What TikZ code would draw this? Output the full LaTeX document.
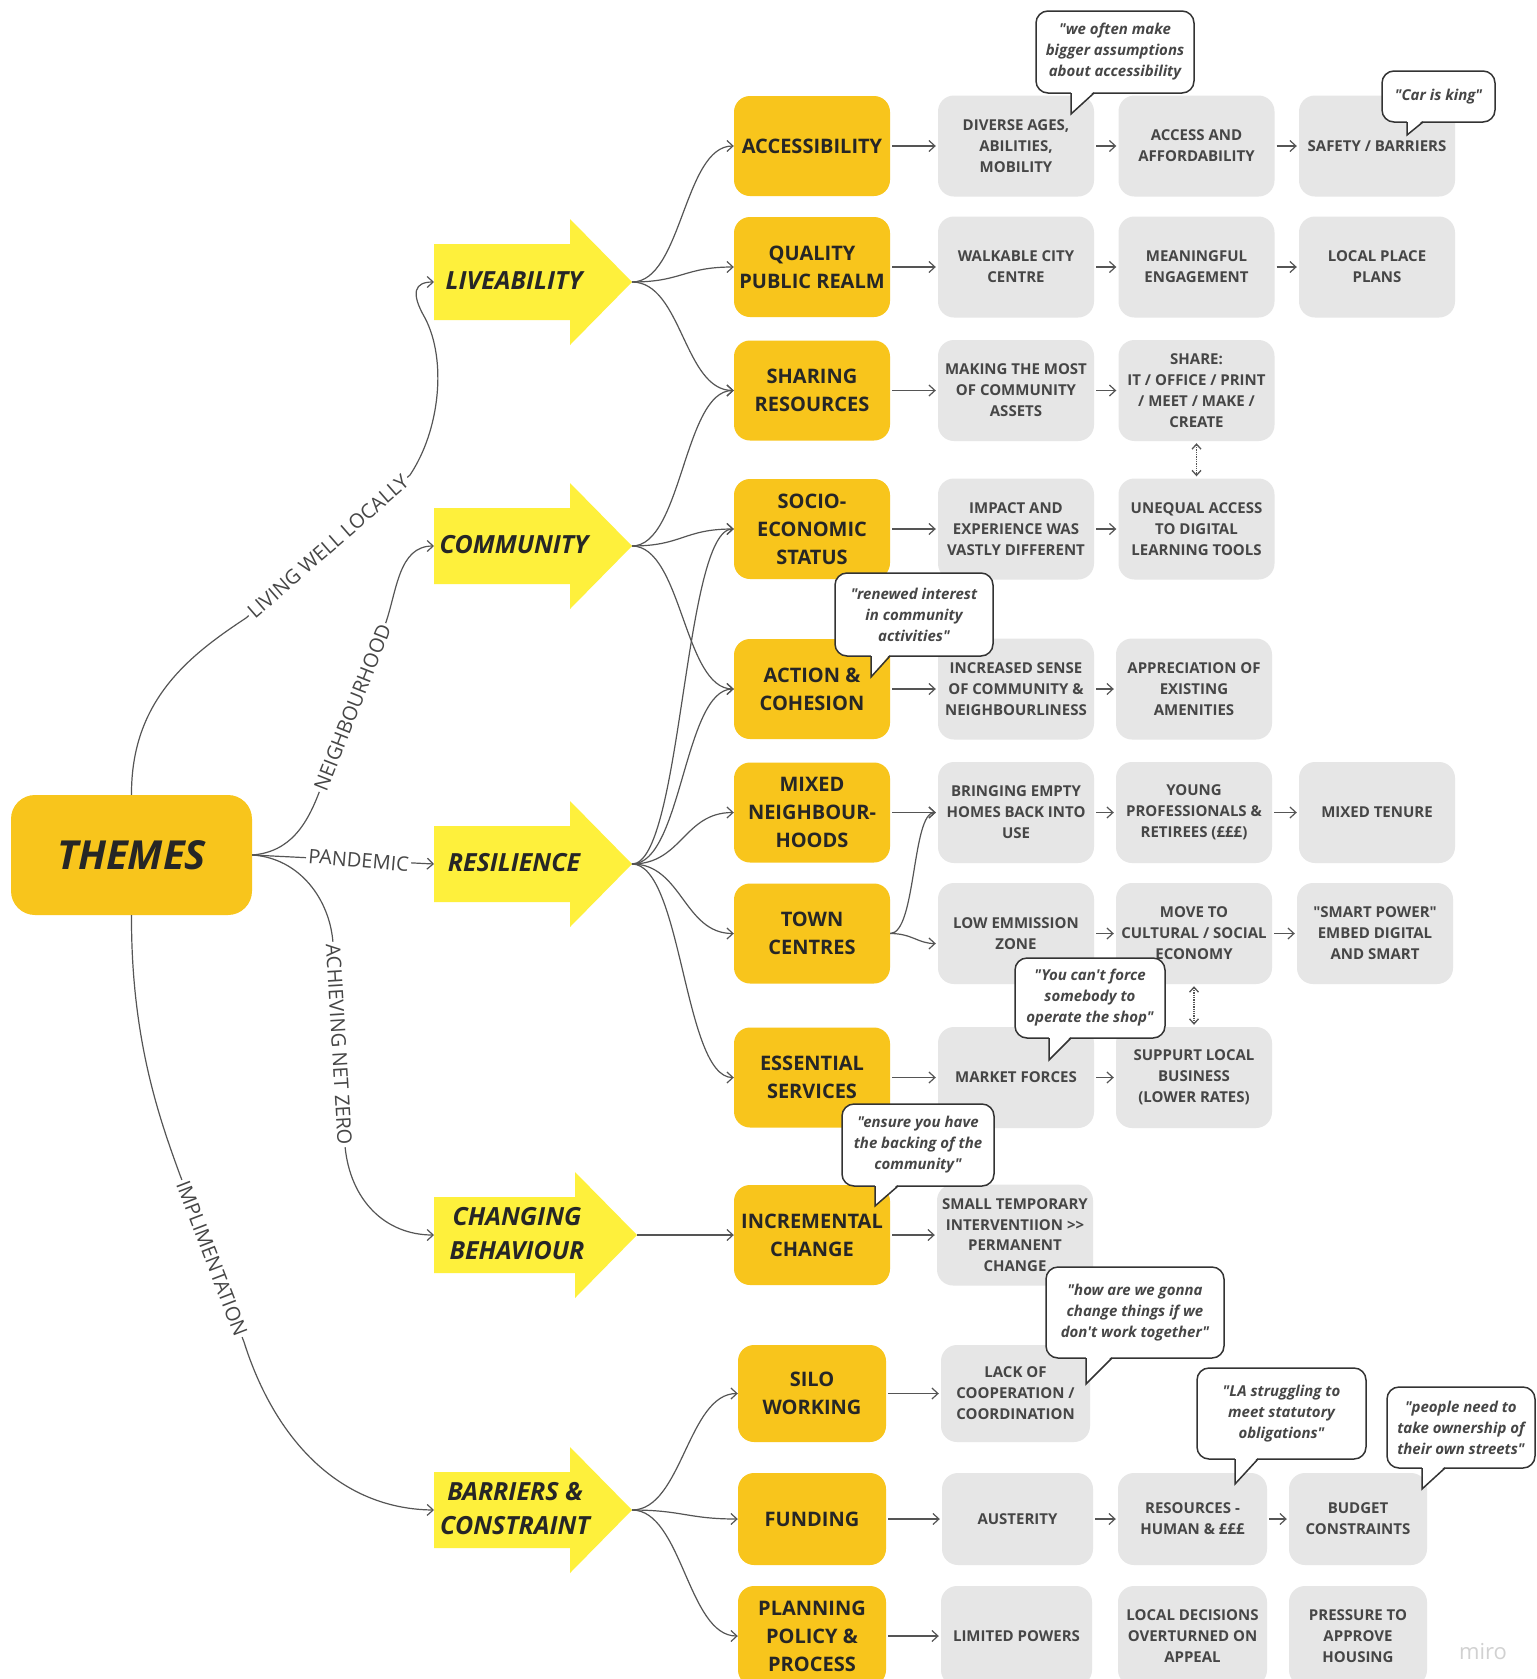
\documentclass[tikz,border=0pt]{standalone}
\usepackage{fontspec}
\setmainfont{Open Sans}[Ligatures=TeXOff]
\usetikzlibrary{arrows.meta,calc}
\definecolor{ybox}{HTML}{F8C51C}
\definecolor{yarrow}{HTML}{FEF03C}
\definecolor{gbox}{HTML}{E6E6E6}
\definecolor{gtext}{HTML}{464646}
\definecolor{ytext}{HTML}{262626}
\definecolor{conn}{HTML}{555555}
\definecolor{bubline}{HTML}{333333}
\newcommand\bigarr[5]{% name, center y, tip x, text x, text
  \fill[yarrow] (434,#2-38) -- (#3-62,#2-38) -- (#3-62,#2-63) -- (#3,#2) -- (#3-62,#2+63) -- (#3-62,#2+38) -- (434,#2+38) -- cycle;
  \coordinate (#1-in) at (434,#2);
  \coordinate (#1-tip) at (#3,#2);
  \node[arrtext] (#1) at (#4,#2-1) {#5};
}
\newcommand\qbub[9]{% name, x1,y1,x2,y2, tailL, tailR, tipY, text
  \draw[bub] (#2,#3) rectangle (#4,#5);
  \fill[white] (#6,#5-2) -- (#7,#5-2) -- (#6,#8) -- cycle;
  \draw[bubline, line width=1.5pt, line join=miter] (#6,#5) -- (#6,#8) -- (#7,#5);
  \node[qtext] (#1) at ({(#2+#4)/2},{(#3+#5)/2}) {#9};
}
\begin{document}
\begin{tikzpicture}[x=1pt,y=-1pt,
  cat/.style={fill=ybox, rounded corners=16pt, minimum width=156pt, minimum height=100pt, text=ytext, font=\bfseries\fontsize{20}{28}\selectfont, align=center, inner sep=0pt},
  gb/.style={fill=gbox, rounded corners=16pt, minimum width=156pt, minimum height=101pt, text=gtext, font=\bfseries\fontsize{15}{21}\selectfont, align=center, inner sep=0pt},
  arrtext/.style={text=ytext, font=\bfseries\itshape\fontsize{25}{34}\selectfont, align=center, inner sep=0pt},
  qtext/.style={text=gtext, font=\bfseries\itshape\fontsize{15}{21}\selectfont, align=center, inner sep=0pt},
  bub/.style={draw=bubline, line width=1.5pt, fill=white, rounded corners=12pt},
  cn/.style={draw=conn, line width=1.2pt, -{Straight Barb[length=6pt,width=11pt]}},
  rc/.style={cn, shorten <=2pt, shorten >=2pt},
  ln/.style={draw=conn, line width=1.2pt},
  elabel/.style={text=gtext, font=\fontsize{20}{20}\selectfont, fill=white, inner sep=2pt},
  dotarr/.style={draw=conn, line width=1.3pt, densely dotted, {Straight Barb[length=5pt,width=9pt]}-{Straight Barb[length=5pt,width=9pt]}, shorten <=2pt, shorten >=2pt}
]
\fill[white] (0,0) rectangle (1537,1679);
\useasboundingbox (0,0) rectangle (1537,1679);

% ---- main theme box
\node[fill=ybox, rounded corners=24pt, minimum width=241pt, minimum height=120pt, inner sep=0pt,
      font=\bfseries\itshape\fontsize{40}{40}\selectfont, text=ytext] (themes) at (131.5,855) {THEMES};

% ---- big arrows
\bigarr{liv}{282}{632}{514}{LIVEABILITY}
\bigarr{com}{546}{632}{514}{COMMUNITY}
\bigarr{res}{864}{632}{514}{RESILIENCE}
\bigarr{cb}{1235}{637}{517}{CHANGING\\BEHAVIOUR}
\bigarr{bar}{1510}{632}{515}{BARRIERS \&\\CONSTRAINT}

% ---- category boxes
\node[cat] (acc) at (812,146) {ACCESSIBILITY};
\node[cat] (qual) at (812,267) {QUALITY\\PUBLIC REALM};
\node[cat] (shr) at (812,390.5) {SHARING\\RESOURCES};
\node[cat] (soc) at (812,529) {SOCIO-\\ECONOMIC\\STATUS};
\node[cat] (act) at (812,689) {ACTION \&\\COHESION};
\node[cat] (mix) at (812,812.5) {MIXED\\NEIGHBOUR-\\HOODS};
\node[cat] (town) at (812,933.5) {TOWN\\CENTRES};
\node[cat] (ess) at (812,1077.5) {ESSENTIAL\\SERVICES};
\node[cat] (inc) at (812,1235) {INCREMENTAL\\CHANGE};
\node[cat, minimum width=148pt, minimum height=97pt] (silo) at (812,1393.5) {SILO\\WORKING};
\node[cat, minimum width=148pt, minimum height=92pt] (fund) at (812,1519) {FUNDING};
\node[cat, minimum width=148pt] (plan) at (812,1636) {PLANNING\\POLICY \&\\PROCESS};

% ---- grey boxes
\node[gb] (a1) at (1016,146) {DIVERSE AGES,\\ABILITIES,\\MOBILITY};
\node[gb] (a2) at (1196.5,146) {ACCESS AND\\AFFORDABILITY};
\node[gb] (a3) at (1377,146) {SAFETY / BARRIERS};
\node[gb] (p1) at (1016,267) {WALKABLE CITY\\CENTRE};
\node[gb] (p2) at (1196.5,267) {MEANINGFUL\\ENGAGEMENT};
\node[gb] (p3) at (1377,267) {LOCAL PLACE\\PLANS};
\node[gb] (s1) at (1016,390.5) {MAKING THE MOST\\OF COMMUNITY\\ASSETS};
\node[gb] (s2) at (1196.5,390.5) {SHARE:\\IT / OFFICE / PRINT\\/ MEET / MAKE /\\CREATE};
\node[gb] (e1) at (1016,529) {IMPACT AND\\EXPERIENCE WAS\\VASTLY DIFFERENT};
\node[gb] (e2) at (1196.5,529) {UNEQUAL ACCESS\\TO DIGITAL\\LEARNING TOOLS};
\node[gb] (c1) at (1016,689) {INCREASED SENSE\\OF COMMUNITY \&\\NEIGHBOURLINESS};
\node[gb] (c2) at (1194,689) {APPRECIATION OF\\EXISTING\\AMENITIES};
\node[gb] (m1) at (1016,812.5) {BRINGING EMPTY\\HOMES BACK INTO\\USE};
\node[gb] (m2) at (1194,812.5) {YOUNG\\PROFESSIONALS \&\\RETIREES (£££)};
\node[gb] (m3) at (1377,812.5) {MIXED TENURE};
\node[gb] (t1) at (1016,933.5) {LOW EMMISSION\\ZONE};
\node[gb] (t2) at (1194,933.5) {MOVE TO\\CULTURAL / SOCIAL\\ECONOMY};
\node[gb] (t3) at (1375,933.5) {"SMART POWER"\\EMBED DIGITAL\\AND SMART};
\node[gb] (v1) at (1016,1077.5) {MARKET FORCES};
\node[gb] (v2) at (1194,1077.5) {SUPPURT LOCAL\\BUSINESS\\(LOWER RATES)};
\node[gb, font=\bfseries\fontsize{15}{20.5}\selectfont] (i1) at (1015,1235) {SMALL TEMPORARY\\INTERVENTIION >>\\PERMANENT\\CHANGE};
\node[gb, minimum width=149pt, minimum height=97pt] (w1) at (1015.5,1393.5) {LACK OF\\COOPERATION /\\COORDINATION};
\node[gb, minimum width=151pt, minimum height=92pt] (f1) at (1017.5,1519) {AUSTERITY};
\node[gb, minimum width=149pt, minimum height=92pt] (f2) at (1192.5,1519) {RESOURCES -\\HUMAN \& £££};
\node[gb, minimum width=138pt, minimum height=92pt] (f3) at (1358,1519) {BUDGET\\CONSTRAINTS};
\node[gb, minimum width=151pt, minimum height=100pt] (l1) at (1016.5,1636) {LIMITED POWERS};
\node[gb, minimum width=149pt, minimum height=100pt] (l2) at (1192.5,1636) {LOCAL DECISIONS\\OVERTURNED ON\\APPEAL};
\node[gb, minimum width=138pt, minimum height=100pt] (l3) at (1358,1636) {PRESSURE TO\\APPROVE\\HOUSING};

% ---- edges from THEMES
\draw[ln, -{Straight Barb[length=6pt,width=11pt]}] (themes.north) .. controls (131,700) and (190,655) .. (246,618)
  -- node[midway, sloped, elabel] {LIVING WELL LOCALLY} (410,475)
  .. controls (440,430) and (447,360) .. (425,318) .. controls (410,292) and (415,282) .. (liv-in);
\draw[ln, -{Straight Barb[length=6pt,width=11pt]}] (themes.east) .. controls (290,852) and (307,825) .. (320,790)
  -- node[midway, sloped, elabel] {NEIGHBOURHOOD} (385,625)
  .. controls (397,592) and (398,546) .. (com-in);
\draw[ln, -{Straight Barb[length=6pt,width=11pt]}] (themes.east) -- node[pos=0.585, rotate=-5, elabel] {PANDEMIC} (res-in);
\draw[ln, -{Straight Barb[length=6pt,width=11pt]}] (themes.east) .. controls (300,858) and (330,900) .. (333,943)
  -- node[midway, sloped, elabel] {ACHIEVING NET ZERO} (345,1146)
  .. controls (350,1200) and (385,1235) .. (cb-in);
\draw[ln, -{Straight Barb[length=6pt,width=11pt]}] (themes.south) .. controls (131,1040) and (160,1120) .. (180,1175)
  -- node[midway, sloped, elabel] {IMPLIMENTATION} (244,1342)
  .. controls (275,1440) and (340,1509) .. (bar-in);

% ---- from big arrows to categories
\foreach \t in {acc,qual,shr} \draw[cn] (liv-tip) .. controls +(50,0) and +(-50,0) .. (\t.west);
\foreach \t in {shr,soc,act} \draw[cn] (com-tip) .. controls +(50,0) and +(-50,0) .. (\t.west);
\foreach \t in {soc,act,mix,town,ess} \draw[cn] (res-tip) .. controls +(50,0) and +(-50,0) .. (\t.west);
\draw[cn] (cb-tip) -- (inc.west);
\foreach \t in {silo,fund,plan} \draw[cn] (bar-tip) .. controls +(50,0) and +(-50,0) .. (\t.west);

% ---- row connectors
\draw[rc] (acc.east) -- (a1.west);
\draw[rc] (a1.east) -- (a2.west);
\draw[rc] (a2.east) -- (a3.west);
\draw[rc] (qual.east) -- (p1.west);
\draw[rc] (p1.east) -- (p2.west);
\draw[rc] (p2.east) -- (p3.west);
\draw[rc] (shr.east) -- (s1.west);
\draw[rc] (s1.east) -- (s2.west);
\draw[rc] (soc.east) -- (e1.west);
\draw[rc] (e1.east) -- (e2.west);
\draw[rc] (act.east) -- (c1.west);
\draw[rc] (c1.east) -- (c2.west);
\draw[rc] (mix.east) -- (m1.west);
\draw[rc] (m1.east) -- (m2.west);
\draw[rc] (m2.east) -- (m3.west);
\draw[cn, shorten >=2pt] (town.east) .. controls +(26,0) and +(-26,0) .. (m1.west);
\draw[cn, shorten >=2pt] (town.east) .. controls +(22,0) and +(-20,0) .. ([yshift=-10pt]t1.west);
\draw[rc] (t1.east) -- (t2.west);
\draw[rc] (t2.east) -- (t3.west);
\draw[rc] (ess.east) -- (v1.west);
\draw[rc] (v1.east) -- (v2.west);
\draw[rc] (inc.east) -- (i1.west);
\draw[rc] (silo.east) -- (w1.west);
\draw[rc] (fund.east) -- (f1.west);
\draw[rc] (f1.east) -- (f2.west);
\draw[rc] (f2.east) -- (f3.west);
\draw[rc] (plan.east) -- (l1.west);
\draw[dotarr] (s2.south) -- (e2.north);
\draw[dotarr] (t2.south) -- (v2.north);

% ---- quote bubbles
\qbub{q1}{1036}{11}{1194}{93}{1071}{1094}{114}{"we often make\\bigger assumptions\\about accessibility}
\qbub{q2}{1382}{71}{1495}{122}{1407}{1423}{135}{"Car is king"}
\qbub{q3}{835}{573}{993}{656}{871}{890}{677}{"renewed interest\\in community\\activities"}
\qbub{q4}{1015}{958}{1165}{1038}{1049}{1071}{1060}{"You can't force\\somebody to\\operate the shop"}
\qbub{q5}{842}{1104}{994}{1186}{875}{898}{1206}{"ensure you have\\the backing of the\\community"}
\qbub{q6}{1046}{1267}{1224}{1358}{1086}{1112}{1384}{"how are we gonna\\change things if we\\don't work together"}
\qbub{q7}{1197}{1368}{1366}{1459}{1235}{1258}{1484}{"LA struggling to\\meet statutory\\obligations"}
\qbub{q8}{1387}{1387}{1535}{1468}{1422}{1445}{1489}{"people need to\\take ownership of\\their own streets"}

\node[text=black!18, font=\fontsize{22}{22}\selectfont, inner sep=0pt] (miro) at (1483,1652) {miro};
\end{tikzpicture}
\end{document}
